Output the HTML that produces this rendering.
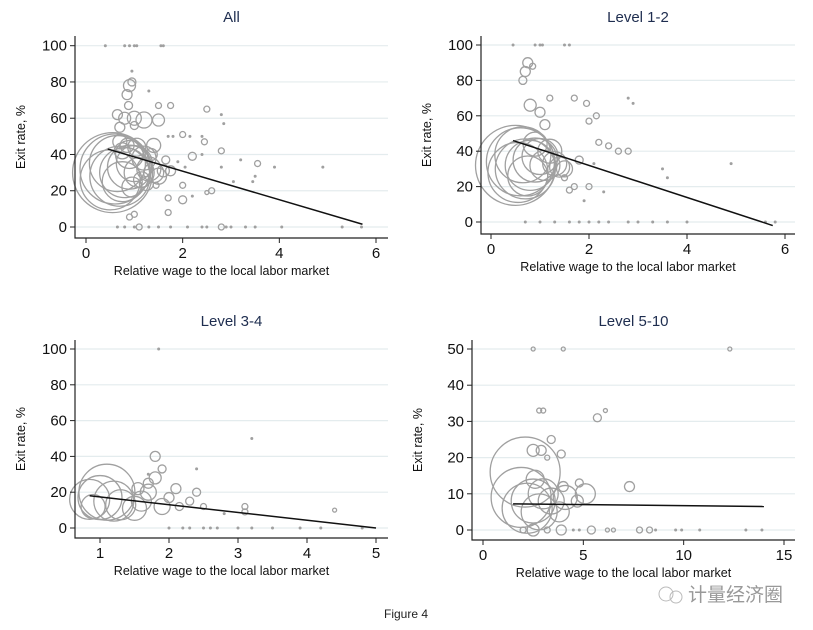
<!DOCTYPE html>
<html><head><meta charset="utf-8"><style>
body{margin:0;background:#fff;}
svg{display:block;font-family:"Liberation Sans",sans-serif;}
</style></head><body>
<svg id="fig" width="813" height="630" viewBox="0 0 813 630" xmlns="http://www.w3.org/2000/svg">
<text x="406" y="618" font-size="12" text-anchor="middle" fill="#222">Figure 4</text>
<g>
<circle cx="666" cy="594" r="7" fill="none" stroke="#bbb"/><circle cx="676" cy="597" r="6" fill="none" stroke="#bbb"/>
<text x="688" y="601" font-size="19" fill="#999" font-family="'Liberation Sans','Noto Sans CJK SC',sans-serif">计量经济圈</text></g>
</svg>
<script>
// ---- Panel "All" data ----
const allX=[0.55,0.6,0.7,0.65,0.8,0.9,0.5,0.75,1.0,1.1,1.2,0.9,1.3,1.4,1.5,1.6,1.4,1.5,1.2,1.0,0.8,0.65,0.7,0.9,0.95,0.85,0.88,1.0,1.65,1.75,2.2,2.0,2.45,2.5,1.5,1.75,2.6,2.0,2.0,1.7,1.7,1.45,0.9,1.0,2.8,3.55,2.5,2.8,1.1,
0.75,0.85,1.05,1.15,1.25,0.95,1.35,0.7,
0.4,0.8,0.9,1.0,1.05,1.55,1.6,0.95,1.3,2.8,2.85,2.4,2.15,1.7,1.8,2.8,3.2,3.5,3.45,3.9,4.9,3.05,2.2,2.4,1.9,2.05,0.65,0.8,1.0,1.3,1.5,1.75,2.1,2.4,2.5,2.9,3.0,3.3,3.5,4.05,5.3,5.7];
const allY=[30,32,28,35,30,33,26,25,35,30,38,40,32,30,28,31,45,59,59,60,60,62,55,78,80,73,67,56,37,31,39,51,47,65,67,67,20,23,15,16,8,23,5.5,7,42,35,19,0,0,
42,45,44,26,24,22,40,47,
100,100,100,100,100,100,100,86,75,62,57,50,50,50,50,33,37,28,25,33,33,25,17,40,36,33,0,0,0,0,0,0,0,0,0,0,0,0,0,0,0,0];
const allS=[40,35,30,28,25,22,30,20,18,15,12,14,12,10,8,6,7,6,8,7,6,5,5,6,4,5,4,4,4,5,4,3,3,3,3,3,3,3,4,3,3,3,3,3,3,3,2,3,3,
8,7,9,8,7,10,6,7,
1.5,1.5,1.5,1.5,1.5,1.5,1.5,1.5,1.5,1.5,1.5,1.5,1.5,1.5,1.5,1.5,1.5,1.5,1.5,1.5,1.5,1.5,1.5,1.5,1.5,1.5,1.5,1.5,1.5,1.5,1.5,1.5,1.5,1.5,1.5,1.5,1.5,1.5,1.5,1.5,1.5,1.5];
const allFit=[[0.45,43],[5.72,1.5]];
// ---- Panel "Level 1-2" ----
const l12X=[0.5,0.6,0.7,0.65,0.8,0.9,0.55,0.75,1.0,1.1,1.2,0.9,1.3,1.4,1.5,0.75,0.7,0.65,0.85,1.2,1.0,0.8,1.1,1.7,1.95,2.15,2.0,2.6,2.8,2.2,2.4,1.8,1.7,2.0,1.5,1.6,
0.45,0.9,1.0,1.05,1.5,1.6,2.8,2.9,3.5,3.6,4.9,2.1,2.3,1.9,0.7,1.0,1.3,1.6,1.8,2.0,2.2,2.4,2.8,3.0,3.3,3.6,4.0,5.6,5.8];
const l12Y=[32,34,30,38,32,35,28,26,37,32,40,44,33,31,30,90,85,80,88,70,62,66,55,70,67,60,57,40,40,45,43,35,20,20,25,18,
100,100,100,100,100,100,70,67,30,25,33,33,17,12,0,0,0,0,0,0,0,0,0,0,0,0,0,0,0];
const l12S=[40,34,30,28,25,22,30,20,18,15,12,12,12,10,8,5,5,4,3,3,5,6,5,3,3,3,3,3,3,3,3,4,3,3,3,3,
1.5,1.5,1.5,1.5,1.5,1.5,1.5,1.5,1.5,1.5,1.5,1.5,1.5,1.5,1.5,1.5,1.5,1.5,1.5,1.5,1.5,1.5,1.5,1.5,1.5,1.5,1.5,1.5,1.5];
const l12Fit=[[0.45,46],[5.75,-2]];
// ---- Panel "Level 3-4" ----
const l34X=[1.1,1.0,0.85,1.2,1.3,0.9,1.5,1.6,1.7,1.8,1.8,1.9,1.9,2.0,2.1,2.3,2.4,2.5,3.1,3.1,4.4,1.7,1.55,2.15,
1.85,3.2,2.4,1.7,2.8,2.0,2.2,2.3,2.5,2.6,2.7,3.0,3.2,3.5,3.9,4.2,4.8];
const l34Y=[20,17,16,15,13,12,11,15,20,28,40,33,12,17,22,15,20,12,12,9,10,25,22,12,
100,50,33,30,8,0,0,0,0,0,0,0,0,0,0,0,0];
const l34S=[28,22,20,20,15,12,12,10,8,6,5,4,8,5,5,4,4,3,3,3,2,5,6,4,
1.5,1.5,1.5,1.5,1.5,1.5,1.5,1.5,1.5,1.5,1.5,1.5,1.5,1.5,1.5,1.5,1.5];
const l34Fit=[[0.85,18],[5.0,0]];
// ---- Panel "Level 5-10" ----
const l510X=[2.1,1.9,2.2,2.5,2.8,3.0,3.4,3.8,4.1,5.1,4.7,2.6,4.0,4.8,2.5,2.9,3.4,3.9,5.7,7.3,3.2,2.8,3.0,6.1,2.5,4.0,12.3,2.5,3.9,5.4,8.3,7.8,6.2,6.5,3.2,2.0,
8.6,9.6,9.9,10.8,13.1,13.9,4.5,4.8];
const l510Y=[16,9,6,8,5,10,8,5,9,10,8,14,12,13,22,22,25,21,31,12,20,33,33,33,50,50,50,0,0,0,0,0,0,0,0,0,
0,0,0,0,0,0,0,0];
const l510S=[35,30,25,22,18,15,13,10,12,10,6,9,5,4,6,5,4,4,4,5,2.5,2.5,2.5,2,2,2,2,6,5,4,3,3,2,2,3,3,
1.5,1.5,1.5,1.5,1.5,1.5,1.5,1.5];
const l510Fit=[[1.5,7.2],[14,6.5]];

const allXTicks=[0,2,4,6], allYTicks=[0,20,40,60,80,100];
const l12XTicks=[0,2,4,6], l12YTicks=[0,20,40,60,80,100];
const l34XTicks=[1,2,3,4,5], l34YTicks=[0,20,40,60,80,100];
const l510XTicks=[0,5,10,15], l510YTicks=[0,10,20,30,40,50];

const NS="http://www.w3.org/2000/svg";
const svg=document.getElementById('fig');
function mk(tag,attrs,parent){const e=document.createElementNS(NS,tag);for(const k in attrs)e.setAttribute(k,attrs[k]);parent.appendChild(e);return e;}

function panel(cfg){
  const g=mk('g',{},svg);
  
  
  const sx=v=>cfg.x0+(v-cfg.xa)*(cfg.x1-cfg.x0)/(cfg.xb-cfg.xa);
  const sy=v=>cfg.y0+(v-cfg.ya)*(cfg.y1-cfg.y0)/(cfg.yb-cfg.ya);
  cfg.yt.forEach(t=>{const l=mk('line',{x1:cfg.L,x2:cfg.R,y1:sy(t),y2:sy(t),stroke:'#e4ecee','stroke-width':1.2},g);
    });
  for(let i=0;i<cfg.X.length;i++){
    const r=cfg.S[i];
    const c=mk('circle',{cx:sx(cfg.X[i]),cy:sy(cfg.Y[i]),r:r,fill:r<2?'#a0a0a0':'none',stroke:'#a0a0a0','stroke-width':r<2?0:1.3},g);
    
    
  }
  const f=mk('line',{x1:sx(cfg.F[0][0]),y1:sy(cfg.F[0][1]),x2:sx(cfg.F[1][0]),y2:sy(cfg.F[1][1]),stroke:'#111','stroke-width':1.5},g);
  
  
  const ax=mk('path',{d:`M${cfg.L},${cfg.T} V${cfg.B} H${cfg.R}`,fill:'none',stroke:'#222','stroke-width':1.2},g);
  
  
  cfg.yt.forEach(t=>{mk('line',{x1:cfg.L-5,x2:cfg.L,y1:sy(t),y2:sy(t),stroke:'#222'},g);
    const tx=mk('text',{x:cfg.L-8,y:sy(t)+5,'font-size':15,'text-anchor':'end',fill:'#111'},g);tx.textContent=t;
    });
  cfg.xt.forEach(t=>{mk('line',{x1:sx(t),x2:sx(t),y1:cfg.B,y2:cfg.B+5,stroke:'#222'},g);
    const tx=mk('text',{x:sx(t),y:cfg.B+20,'font-size':15,'text-anchor':'middle',fill:'#111'},g);tx.textContent=t;
    });
  const tt=mk('text',{x:(cfg.L+cfg.R)/2,y:cfg.T-14,'font-size':15,'text-anchor':'middle',fill:'#1e2d4f'},g);tt.textContent=cfg.title;
  
  const xl=mk('text',{x:(cfg.L+cfg.R)/2-10,y:cfg.B+37,'font-size':12.5,'text-anchor':'middle',fill:'#111'},g);xl.textContent='Relative wage to the local labor market';
  
  const yc=(cfg.T+cfg.B)/2;
  const yl=mk('text',{x:cfg.L-50,y:yc,'font-size':12.5,'text-anchor':'middle',fill:'#111',transform:`rotate(-90 ${cfg.L-50} ${yc})`},g);yl.textContent='Exit rate, %';
  
}
panel({name:'panel-all',title:'All',X:allX,Y:allY,S:allS,F:allFit,xt:allXTicks,yt:allYTicks,L:75,R:388,T:36,B:238,xa:0,xb:6,x0:86,x1:376,ya:0,yb:100,y0:227,y1:45.7});
panel({name:'panel-level-1-2',title:'Level 1-2',X:l12X,Y:l12Y,S:l12S,F:l12Fit,xt:l12XTicks,yt:l12YTicks,L:481,R:795,T:36,B:234,xa:0,xb:6,x0:491,x1:785,ya:0,yb:100,y0:222,y1:45});
panel({name:'panel-level-3-4',title:'Level 3-4',X:l34X,Y:l34Y,S:l34S,F:l34Fit,xt:l34XTicks,yt:l34YTicks,L:75,R:388,T:340,B:538,xa:1,xb:5,x0:100,x1:376,ya:0,yb:100,y0:528,y1:349});
panel({name:'panel-level-5-10',title:'Level 5-10',X:l510X,Y:l510Y,S:l510S,F:l510Fit,xt:l510XTicks,yt:l510YTicks,L:472,R:795,T:340,B:540,xa:0,xb:15,x0:483,x1:784,ya:0,yb:50,y0:530,y1:349});
</script>
</body></html>
